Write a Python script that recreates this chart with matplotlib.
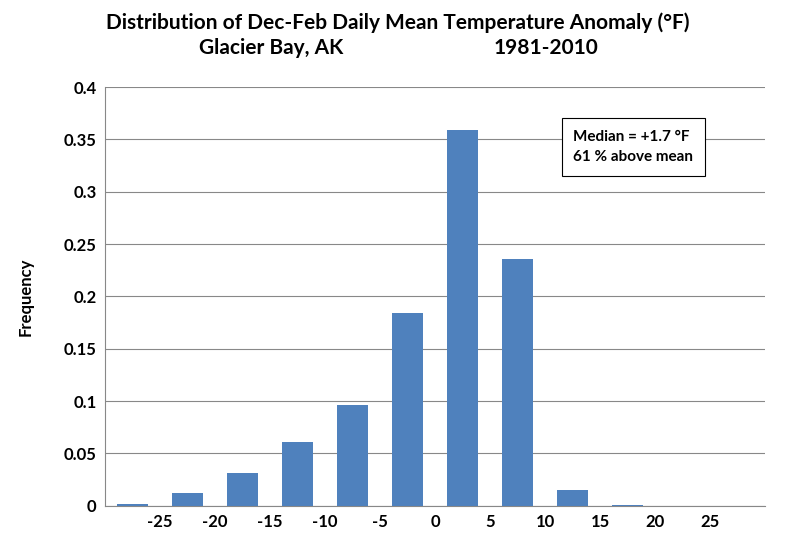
import matplotlib
matplotlib.use("Agg")
import matplotlib.pyplot as plt

bin_centers = [-27.5, -22.5, -17.5, -12.5, -7.5, -2.5, 2.5, 7.5, 12.5, 17.5, 22.5, 27.5]
freq = [0.002, 0.012, 0.031, 0.061, 0.096, 0.184, 0.359, 0.236, 0.015, 0.001, 0.0, 0.0]
xticks = [-25, -20, -15, -10, -5, 0, 5, 10, 15, 20, 25]
yticks = [0, 0.05, 0.1, 0.15, 0.2, 0.25, 0.3, 0.35, 0.4]
ylabels = ["0", "0.05", "0.1", "0.15", "0.2", "0.25", "0.3", "0.35", "0.4"]

plt.rcParams['font.family'] = ['Lato', 'DejaVu Sans']
fig = plt.figure(figsize=(7.96, 5.48), dpi=100)
ax = fig.add_axes([0.132, 0.077, 0.829, 0.764])
ax.bar(bin_centers, freq, width=2.75, color='#4f81bd', zorder=3)
ax.set_xlim(-30, 30)
ax.set_ylim(0, 0.4)
ax.set_xticks(xticks)
ax.set_xticklabels([str(t) for t in xticks], fontsize=12, fontweight='bold')
ax.set_yticks(yticks)
ax.set_yticklabels(ylabels, fontsize=12, fontweight='bold')
ax.yaxis.grid(True, color='#888888', linewidth=0.8, zorder=0)
for s in ['top', 'right']:
    ax.spines[s].set_visible(False)
ax.spines['left'].set_color('#888888')
ax.spines['bottom'].set_color('#888888')
ax.tick_params(axis='both', length=0, pad=6)
ax.set_ylabel('Frequency', fontsize=12, fontweight='bold', labelpad=22)
fig.text(0.5, 0.958, 'Distribution of Dec-Feb Daily Mean Temperature Anomaly (°F)',
         ha='center', va='center', fontsize=15, fontweight='bold')
fig.text(0.25, 0.912, 'Glacier Bay, AK', ha='left', va='center', fontsize=15, fontweight='bold')
fig.text(0.62, 0.912, '1981-2010', ha='left', va='center', fontsize=15, fontweight='bold')
fig.text(0.72, 0.732, 'Median = +1.7 °F\n61 % above mean', ha='left', va='center',
         fontsize=11, fontweight='bold', linespacing=1.6,
         bbox=dict(boxstyle='square,pad=0.75', fc='white', ec='black', lw=0.8))
fig.savefig('out.png', dpi=100)
